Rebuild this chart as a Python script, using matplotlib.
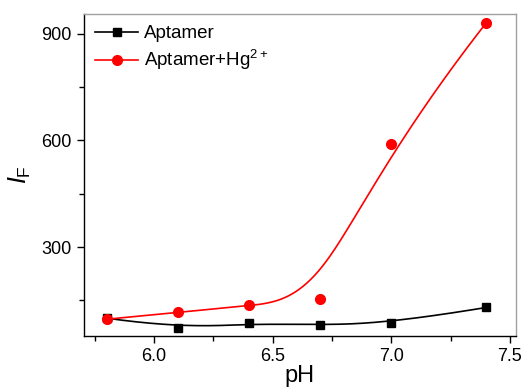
import numpy as np
import matplotlib
matplotlib.use("Agg")
import matplotlib.pyplot as plt
from matplotlib.lines import Line2D
from matplotlib.ticker import MultipleLocator

plt.rcParams['font.family'] = ['Liberation Sans', 'DejaVu Sans']
plt.rcParams['mathtext.fontset'] = 'custom'
plt.rcParams['mathtext.rm'] = 'Liberation Sans'
plt.rcParams['mathtext.it'] = 'Liberation Sans:italic'

# data
ph = [5.8, 6.1, 6.4, 6.7, 7.0, 7.4]
aptamer = [100, 72, 86, 80, 86, 130]
aptamer_hg = [97, 116, 136, 153, 589, 930]


def bspline(cx, cy, num=400, k=3):
    # clamped cubic B-spline with the data points as control points
    cx = np.asarray(cx, float)
    cy = np.asarray(cy, float)
    c = len(cx)
    knots = np.concatenate([np.zeros(k), np.linspace(0, 1, c - k + 1), np.ones(k)])
    t = np.linspace(0, 1, num)
    t[-1] -= 1e-9
    N = np.array([(t >= knots[i]) & (t < knots[i + 1]) for i in range(len(knots) - 1)], float)
    for d in range(1, k + 1):
        new = np.zeros((len(knots) - 1 - d, num))
        for i in range(len(knots) - 1 - d):
            a = knots[i + d] - knots[i]
            b = knots[i + d + 1] - knots[i + 1]
            if a > 0:
                new[i] += (t - knots[i]) / a * N[i]
            if b > 0:
                new[i] += (knots[i + d + 1] - t) / b * N[i + 1]
        N = new
    return cx @ N, cy @ N


fig = plt.figure(figsize=(5.29, 3.92), dpi=100)
ax = fig.add_axes([0.159, 0.143, 0.816, 0.821])

ax.plot(*bspline(ph, aptamer), color='black', lw=1.2)
ax.plot(ph, aptamer, 's', color='black', ms=5.5)
ax.plot(*bspline(ph, aptamer_hg), color='red', lw=1.2)
ax.plot(ph, aptamer_hg, 'o', color='red', ms=7)

ax.set_xlim(5.705, 7.525)
ax.set_ylim(50, 955)
ax.xaxis.set_major_locator(MultipleLocator(0.5))
ax.xaxis.set_minor_locator(MultipleLocator(0.25))
ax.yaxis.set_major_locator(MultipleLocator(300))
ax.yaxis.set_minor_locator(MultipleLocator(150))
ax.tick_params(which='both', direction='out', top=False, right=False, labelsize=13, width=1)
ax.tick_params(which='major', length=5, pad=4)
ax.tick_params(which='minor', length=3.5)
for s in ['top', 'right']:
    ax.spines[s].set_color('#a0a0a0')
for s in ax.spines.values():
    s.set_linewidth(1)

ax.set_xlabel('pH', fontsize=17, labelpad=0)
ax.set_ylabel(r'$\mathit{I}_{\mathrm{F}}$', fontsize=18, labelpad=6)

handles = [Line2D([], [], color='black', marker='s', ms=5.5, lw=1.2),
           Line2D([], [], color='red', marker='o', ms=7, lw=1.2)]
ax.legend(handles, ['Aptamer', r'Aptamer+Hg$^{2+}$'], loc='upper left', frameon=False,
          fontsize=13.5, handlelength=2.3, handletextpad=0.3, labelspacing=0.3,
          borderaxespad=0.3, borderpad=0.3)

fig.savefig('out.png', dpi=100)
